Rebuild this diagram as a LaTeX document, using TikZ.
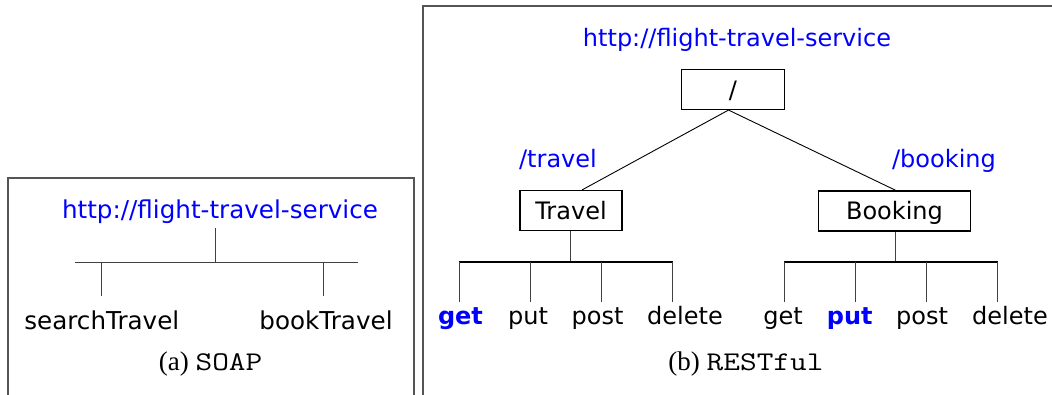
\documentclass[tikz,border=0pt]{standalone}
\usepackage{fontspec}
\setmainfont{Liberation Serif}
\newfontfamily\dv{DejaVu Sans}
\newfontfamily\capmono[FakeStretch=1.2]{Latin Modern Mono}
\definecolor{urlblue}{RGB}{0,0,255}
\definecolor{framegray}{RGB}{85,85,85}
\begin{document}
\begin{tikzpicture}[x=1pt,y=-1pt,
  lbl/.style={inner sep=0pt,anchor=base,font=\dv\fontsize{24}{28}\selectfont},
  lblL/.style={inner sep=0pt,anchor=base,font=\dv\fontsize{24.6}{28}\selectfont},
  blu/.style={text=urlblue},
  boldblu/.style={text=urlblue,font=\dv\bfseries\fontsize{24}{28}\selectfont},
  resbox/.style={draw,line width=1.5pt,inner sep=0pt,minimum height=40pt,text height=17.5pt,text depth=0pt,font=\dv\fontsize{24}{28}\selectfont},
  frame/.style={draw=framegray,line width=1.3pt},
  stem/.style={draw=black!75,line width=1pt},
  bar/.style={draw=black,line width=2pt},
  diag/.style={draw=black,line width=0.9pt},
  capt/.style={inner sep=0pt,anchor=base,font=\fontsize{27}{30}\selectfont}
]
\useasboundingbox (0,0) rectangle (1052,394);
% panel frames
\draw[frame] (8,400) -- (8,178) -- (414,178) -- (414,400);
\draw[frame] (423,400) -- (423,6) -- (1060,6);

% ---------- (a) SOAP ----------
\node[lblL,blu] (surl) at (220,218) {http://flight-travel-service};
\coordinate (stop) at (215.4,228);
\coordinate (sjoin) at (215.4,262);
\coordinate (sbarL) at (74.5,262);
\coordinate (sbarR) at (358,262);
\coordinate (s1top) at (101.5,262);
\coordinate (s1bot) at (101.5,295.5);
\coordinate (s2top) at (323,262);
\coordinate (s2bot) at (323,295.5);
\draw[stem] (stop) -- (sjoin);
\draw[stem] (sbarL) -- (sbarR);
\draw[stem] (s1top) -- (s1bot);
\draw[stem] (s2top) -- (s2bot);
\node[lblL] (search) at (101.8,329) {searchTravel};
\node[lblL] (book) at (326,329) {bookTravel};
\node[capt] (capa) at (210.6,370.5) {(a)\ {\capmono SOAP}};

% ---------- (b) RESTful ----------
\node[lbl,blu] (rurl) at (737,46.5) {http://flight-travel-service};
\node[resbox,minimum width=102.6pt] (root) at (733,89.3) {/};
\node[resbox,minimum width=101.7pt] (travel) at (571,210.7) {Travel};
\node[resbox,minimum width=152.4pt] (booking) at (894.5,211) {Booking};
\node[lbl,blu] (ltravel) at (558,167.5) {/travel};
\node[lbl,blu] (lbooking) at (944,167.5) {/booking};
\draw[diag] ([xshift=-4.5pt]root.south) -- ([xshift=11pt]travel.north);
\draw[diag] ([xshift=-4.5pt]root.south) -- ([xshift=1pt]booking.north);

% Travel methods
\coordinate (tj) at (570.7,261.5);
\coordinate (tb1) at (459,261.5);
\coordinate (tb2) at (530,261.5);
\coordinate (tb3) at (601,261.5);
\coordinate (tb4) at (672,261.5);
\draw[stem] (travel.south -| tj) -- (tj);
\draw[bar] ([xshift=-0.5pt]tb1) -- ([xshift=0.5pt]tb4);
\foreach \c in {tb1,tb2,tb3,tb4} \draw[stem] (\c) -- ++(0,40.5);
\node[boldblu,inner sep=0pt,anchor=base] (tget) at (460.5,324) {get};
\node[lbl] (tput) at (528,324) {put};
\node[lbl] (tpost) at (597.5,324) {post};
\node[lbl] (tdel) at (685,324) {delete};

% Booking methods
\coordinate (bj) at (895.7,261.5);
\coordinate (bb1) at (784,261.5);
\coordinate (bb2) at (855,261.5);
\coordinate (bb3) at (926,261.5);
\coordinate (bb4) at (997,261.5);
\draw[stem] (booking.south -| bj) -- (bj);
\draw[bar] ([xshift=-0.5pt]bb1) -- ([xshift=0.5pt]bb4);
\foreach \c in {bb1,bb2,bb3,bb4} \draw[stem] (\c) -- ++(0,40.5);
\node[lbl] (bget) at (783,324) {get};
\node[boldblu,inner sep=0pt,anchor=base] (bput) at (849.7,324) {put};
\node[lbl] (bpost) at (922,324) {post};
\node[lbl] (bdel) at (1010,324) {delete};

\node[capt] (capb) at (746,370) {(b)\ {\capmono RESTful}};
\end{tikzpicture}
\end{document}
